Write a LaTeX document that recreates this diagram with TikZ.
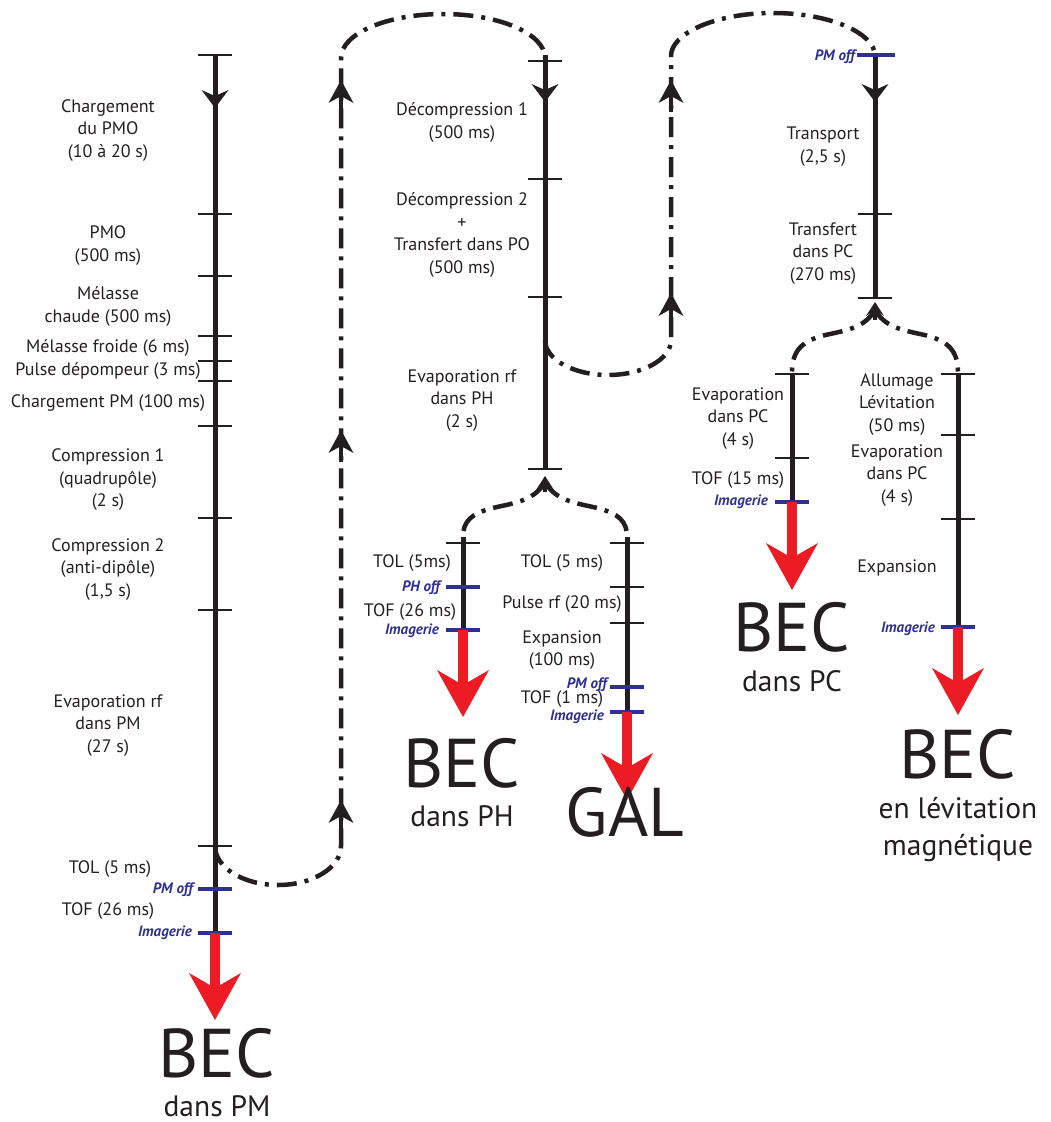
\documentclass[tikz,border=0pt]{standalone}
\usepackage{fontspec}
\setmainfont{PT Sans}
\usetikzlibrary{arrows.meta}
\definecolor{txt}{HTML}{231F20}
\definecolor{blu}{HTML}{2E3192}
\definecolor{rd}{HTML}{ED1C24}
\newcommand\tickat[2]{\draw[tk] ({#1-17},#2) -- ({#1+17},#2);}
\newcommand\bluetick[2]{\draw[btk] ({#1-17},#2) -- ({#1+17},#2);}
\begin{document}
\begin{tikzpicture}[x=1pt,y=-1pt,
  lbl/.style={font=\fontsize{18}{22.5}\selectfont, align=center, text=txt, inner sep=0pt},
  evt/.style={font=\fontsize{15}{16}\selectfont\bfseries\itshape, text=blu, anchor=east, inner sep=0pt, text height=10.5pt, text depth=0pt},
  big/.style={font=\fontsize{69}{69}\selectfont, text=txt, inner sep=0pt, anchor=base, text depth=0pt},
  sub/.style={font=\fontsize{29.5}{34}\selectfont, text=txt, inner sep=0pt, anchor=base, text height=20pt},
  col/.style={line width=5pt, draw=txt},
  tk/.style={line width=1.8pt, draw=txt},
  btk/.style={line width=3.5pt, draw=blu},
  dd/.style={line width=4.5pt, draw=txt, dash pattern=on 20pt off 8pt on 4pt off 8pt},
  redarr/.style={line width=10pt, draw=rd, -{Stealth[length=47pt,width=52pt,inset=15pt,line width=0pt]}},
  dnarr/.style={line width=5pt, draw=txt, -{Stealth[length=18pt,width=27pt,inset=6pt,line width=0pt]}},
  uparr/.style={line width=4.5pt, draw=txt, -{Stealth[length=23pt,width=25pt,inset=7pt,line width=0pt]}},
  forkarr/.style={line width=4pt, draw=txt, -{Stealth[length=14pt,width=18pt,inset=6pt,line width=0pt]}},
]
\useasboundingbox (0,0) rectangle (1050,1122);

% ---------- coordinates ----------
\coordinate (c1top) at (215,55);
\coordinate (c1end) at (215,933);
\coordinate (c1tip) at (215,1020);
\coordinate (c2top) at (545,55);
\coordinate (c2end) at (545,469);
\coordinate (c2atop) at (463,537);
\coordinate (c2aend) at (463,630);
\coordinate (c2atip) at (463,717);
\coordinate (c2btop) at (627,537);
\coordinate (c2bend) at (627,712);
\coordinate (c2btip) at (627,800);
\coordinate (c3top) at (875,55);
\coordinate (c3end) at (875,298);
\coordinate (c3atop) at (792,373);
\coordinate (c3aend) at (792,502);
\coordinate (c3atip) at (792,590);
\coordinate (c3btop) at (958,373);
\coordinate (c3bend) at (958,627);
\coordinate (c3btip) at (958,715);

% ---------- dash-dot connections ----------
\draw[dd] (215,846) .. controls (215,867.5) and (243.2,885) .. (278,885)
  .. controls (312.8,885) and (341,867.5) .. (341,846) -- (341,58)
  .. controls (341,33.7) and (386.7,14) .. (443,14)
  .. controls (499.3,14) and (545,33.7) .. (545,58);
\draw[dd] (545,340) .. controls (545,359.3) and (573.2,375) .. (608,375)
  .. controls (642.8,375) and (671,359.3) .. (671,340) -- (671,56)
  .. controls (671,32.8) and (716.7,13) .. (773,13)
  .. controls (829.3,13) and (875,32.8) .. (875,56);
\draw[dd] (545,482) .. controls (535,500) and (515,503) .. (497,507)
  .. controls (470,513) and (463,522) .. (c2atop);
\draw[dd] (545,482) .. controls (555,500) and (575,503) .. (593,507)
  .. controls (620,513) and (627,522) .. (c2btop);
\draw[dd] (875,310) .. controls (865,327) and (848,330) .. (830,334)
  .. controls (800,340) and (792,352) .. (c3atop);
\draw[dd] (875,310) .. controls (885,327) and (902,330) .. (920,334)
  .. controls (950,340) and (958,352) .. (c3btop);

% up arrows on dash-dot lines
\draw[uparr] (341,838) -- (341,800);
\draw[uparr] (341,462) -- (341,430);
\draw[uparr] (341,112) -- (341,80);
\draw[uparr] (671,322) -- (671,293);
\draw[uparr] (671,112) -- (671,80);
\draw[forkarr] (545,492) -- (545,476);
\draw[forkarr] (875,320) -- (875,302);

% ---------- columns ----------
\draw[col] (c1top) -- (c1end);
\draw[col] (c2top) -- (c2end);
\draw[col] (c2atop) -- (c2aend);
\draw[col] (c2btop) -- (c2bend);
\draw[col] (c3top) -- (c3end);
\draw[col] (c3atop) -- (c3aend);
\draw[col] (c3btop) -- (c3bend);

\draw[dnarr] (215,80) -- (215,108);
\draw[dnarr] (545,74) -- (545,102);
\draw[dnarr] (875,74) -- (875,102);

% ticks
\foreach \y in {55,214,276,336,361,381,426,518,610,846} {\tickat{215}{\y}}
\foreach \y in {889,933} {\bluetick{215}{\y}}
\foreach \y in {61,179,297,469} {\tickat{545}{\y}}
\tickat{463}{543}
\foreach \y in {587,630} {\bluetick{463}{\y}}
\foreach \y in {543,587,623} {\tickat{627}{\y}}
\foreach \y in {687,712} {\bluetick{627}{\y}}
\draw[btk] (857,55) -- (895,55);
\foreach \y in {214,298} {\tickat{875}{\y}}
\foreach \y in {374,458} {\tickat{792}{\y}}
\bluetick{792}{502}
\foreach \y in {374,435,519} {\tickat{958}{\y}}
\bluetick{958}{627}

% red arrows
\draw[redarr] (c1end) -- (c1tip);
\draw[redarr] (c2aend) -- (c2atip);
\draw[redarr] (c2bend) -- (c2btip);
\draw[redarr] (c3aend) -- (c3atip);
\draw[redarr] (c3bend) -- (c3btip);

% ---------- labels column 1 ----------
\node[lbl] (l1) at (108,130.5) {Chargement\\du PMO\\(10 à 20 s)};
\node[lbl] (l2) at (108,245.5) {PMO\\(500 ms)};
\node[lbl] (l3) at (108,306.5) {Mélasse\\chaude (500 ms)};
\node[lbl] (l4) at (108,348) {Mélasse froide (6 ms)};
\node[lbl] (l5) at (108,371) {Pulse dépompeur (3 ms)};
\node[lbl] (l6) at (108,403) {Chargement PM (100 ms)};
\node[lbl] (l7) at (108,480) {Compression 1\\(quadrupôle)\\(2 s)};
\node[lbl] (l8) at (108,569.5) {Compression 2\\(anti-dipôle)\\(1,5 s)};
\node[lbl] (l9) at (108,725.5) {Evaporation rf\\dans PM\\(27 s)};
\node[lbl] (l10) at (110,869) {TOL (5 ms)};
\node[evt] (e1) at (193,888) {PM off};
\node[lbl] (l11) at (108,911) {TOF (26 ms)};
\node[evt] (e2) at (192,931) {Imagerie};
\node[big] (b1) at (217,1077) {BEC};
\node[sub, text depth=0pt] (s1) at (217,1116) {dans PM};

% ---------- labels column 2 ----------
\node[lbl] (m1) at (462,122.5) {Décompression 1\\(500 ms)};
\node[lbl] (m2) at (462,235) {Décompression 2\\+\\Transfert dans PO\\(500 ms)};
\node[lbl] (m3) at (462,400.5) {Evaporation rf\\dans PH\\(2 s)};
\node[lbl] (m4) at (412,563) {TOL (5ms)};
\node[evt] (e3) at (440,586) {PH off};
\node[lbl] (m5) at (410,612) {TOF (26 ms)};
\node[evt] (e4) at (439,629) {Imagerie};
\node[big] (b2) at (462,787) {BEC};
\node[sub] (s2) at (462,826) {dans PH};
\node[lbl] (m6) at (562,563) {TOL (5 ms)};
\node[lbl] (m7) at (562,604) {Pulse rf (20 ms)};
\node[lbl] (m8) at (562,650) {Expansion\\(100 ms)};
\node[evt] (e5) at (607,683) {PM off};
\node[lbl] (m9) at (562,699) {TOF (1 ms)};
\node[evt] (e6) at (604,715) {Imagerie};
\node[big] (b3) at (625,836) {GAL};

% ---------- labels column 3 ----------
\node[evt] (e7) at (855,55) {PM off};
\node[lbl] (n1) at (823,146.5) {Transport\\(2,5 s)};
\node[lbl] (n2) at (823,253.5) {Transfert\\dans PC\\(270 ms)};
\node[lbl] (n3) at (738,418.5) {Evaporation\\dans PC\\(4 s)};
\node[lbl] (n4) at (738,480) {TOF (15 ms)};
\node[evt] (e8) at (768,500) {Imagerie};
\node[big] (b4) at (792,651) {BEC};
\node[sub] (s4) at (792,691) {dans PC};
\node[lbl] (n5) at (897,404.5) {Allumage\\Lévitation\\(50 ms)};
\node[lbl] (n6) at (897,475.5) {Evaporation\\dans PC\\(4 s)};
\node[lbl] (n7) at (897,568) {Expansion};
\node[evt] (e9) at (935,627) {Imagerie};
\node[big] (b5) at (958,778) {BEC};
\node[sub] (s5) at (958,818) {en lévitation};
\node[sub] (s6) at (958,855) {magnétique};
\end{tikzpicture}
\end{document}
